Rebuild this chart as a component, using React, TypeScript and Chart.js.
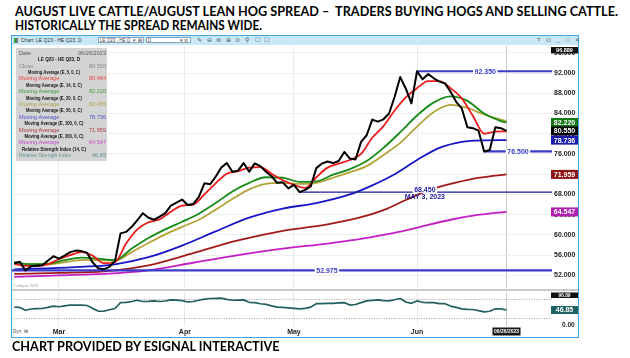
import React, { useEffect, useLayoutEffect, useRef } from "react";
import { Chart, registerables } from "chart.js";

Chart.register(...registerables);

// ---------------- data (x = trading-day index: 0 = 02/16/2023 ... 88 = 06/26/2023) ----------------
const closeValues = [
  54.4, 54.7, 52.98, 53.8, 53.9, 54.0, 54.9, 55.8, 55.3, 55.9,
  56.6, 56.9, 56.8, 56.5, 54.6, 53.4, 53.2, 53.7, 54.8, 60.3,
  60.6, 61.6, 62.9, 64.3, 63.4, 63.0, 63.6, 64.3, 65.8, 66.4,
  67.0, 65.9, 66.1, 67.5, 70.2, 70.0, 71.5, 73.3, 74.2, 72.5,
  72.7, 74.2, 72.5, 74.15, 73.6, 72.5, 71.6, 70.3, 70.4, 69.2,
  69.9, 68.45, 68.9, 69.6, 73.2, 74.1, 74.5, 74.2, 74.6, 76.4,
  75.1, 74.9, 78.4, 79.7, 82.8, 82.4, 82.85, 84.0, 87.3, 91.2,
  88.9, 86.0, 92.35, 90.75, 91.8, 90.95, 90.3, 89.95, 88.3, 86.3,
  85.0, 81.3, 81.1, 80.6, 76.5, 76.8, 81.3, 81.1, 80.55,
];

const ema5Idx = [
  0, 2, 4, 6, 8, 10, 12, 14, 16, 18, 20, 22, 24, 26, 28, 30, 32, 34, 36, 38, 40, 42,
  44, 46, 48, 50, 52, 54, 56, 58, 60, 62, 64, 66, 68, 70, 72, 74, 76, 78, 80, 82, 84, 86, 88,
];
const ema5Values = [
  54.3, 53.9, 53.9, 54.2, 55.2, 56.0, 56.6, 55.9, 54.4, 54.6,
  58.3, 61.1, 62.5, 63.1, 64.6, 65.8, 66.0, 68.0, 70.2, 72.1,
  72.6, 73.3, 73.4, 72.1, 70.8, 69.9, 69.3, 71.4, 73.3, 74.1,
  74.8, 76.0, 79.2, 81.5, 84.6, 87.2, 89.0, 90.4, 90.4, 89.0,
  87.0, 83.5, 80.0, 80.4, 80.464,
];

const midIdx = [
  0, 3, 6, 9, 12, 15, 18, 21, 24, 27, 30, 33, 36, 39, 42, 45, 48, 51, 54, 57,
  60, 63, 66, 69, 72, 75, 78, 81, 84, 87, 88,
];
const ema14Values = [
  54.6, 54.2, 54.3, 55.0, 55.5, 55.3, 55.0, 57.3, 59.4, 61.1,
  62.6, 64.2, 66.3, 68.6, 70.3, 71.4, 71.3, 70.5, 70.6, 71.9,
  73.0, 74.6, 77.2, 80.3, 83.6, 86.2, 87.4, 86.5, 84.0, 82.5, 82.22,
];
const ema20Values = [
  54.5, 54.2, 54.2, 54.6, 55.0, 55.0, 54.9, 56.6, 58.4, 60.1,
  61.6, 63.0, 65.0, 67.1, 69.0, 70.1, 70.3, 70.1, 70.3, 71.3,
  72.4, 73.6, 75.8, 78.2, 81.4, 84.3, 85.7, 85.1, 83.8, 82.8, 82.455,
];

const ema50Idx = [0, 6, 12, 18, 24, 30, 36, 42, 48, 54, 60, 64, 68, 72, 76, 80, 84, 88];
const ema50Values = [
  53.2, 53.4, 53.7, 54.2, 55.6, 57.9, 60.7, 63.4, 65.2, 66.3,
  68.0, 69.8, 72.0, 74.8, 77.2, 78.4, 78.7, 78.736,
];

const longIdx = [0, 8, 16, 24, 32, 40, 48, 56, 62, 66, 70, 74, 78, 82, 86, 88];
const ema100Values = [
  52.3, 52.5, 52.8, 54.0, 56.4, 58.9, 60.8, 62.1, 63.5, 64.9, 66.9, 68.8, 70.1, 71.1, 71.7, 71.959,
];
const ema200Values = [
  51.7, 52.0, 52.3, 53.0, 54.5, 56.0, 57.3, 58.3, 59.2, 60.0, 60.9, 62.0, 63.0, 63.8, 64.35, 64.547,
];

const rsiValues = [
  55.5, 55, 46, 50, 51, 51.6, 55, 59, 57, 60,
  62, 62.4, 62.4, 61, 52, 43.5, 43, 47.5, 51.6, 70,
  71, 73.5, 77.4, 73.5, 74, 75.3, 73.5, 75, 78.5, 77.5,
  76, 72, 73.5, 77.5, 81, 82.8, 83.5, 83.9, 80, 77.4,
  78, 78.5, 71, 70, 66.5, 64.5, 60, 56, 55, 53.8,
  52, 50.5, 52, 55.9, 66.7, 67, 67.7, 67.7, 69, 69.9,
  62.4, 64, 70, 75.3, 77, 78.5, 76, 75.3, 79, 82.8,
  72, 67.7, 75.3, 71, 69.9, 69.9, 67, 66.7, 59.1, 55,
  50.5, 49, 48.4, 45, 40.9, 43, 50.5, 50.5, 46.85,
];
const rsiBands = [80, 20];

// horizontal level lines (value, first day index, note)
const levelValues = [92.35, 76.5, 68.45, 52.975];
const levelStartIdx = [72, 84, 51, -1];
const levelNotes = ["", "", "MAY 3, 2023", ""];

// tick labels
const priceTicks = [52, 56, 60, 64, 68, 72, 76, 80, 84, 88, 92, 96];
const rsiTicks = [0];
const monthLabels = ["Mar", "Apr", "May", "Jun"];
const monthTickIdx = [8, 30.5, 50, 72];
const LAST_IDX = 88;
const LAST_DATE = "06/26/2023";
const PRICE_TOP_LABEL = 96.889;
const RSI_TOP_LABEL = 96.89;

// ---------------- layout / style ----------------
const FONT = '"Liberation Sans", Arial, Helvetica, sans-serif';
const X_MIN = -0.4;
const X_MAX = 96.13;
const PRICE_MIN = 49.51;
const PRICE_MAX = 97.34;
const RSI_MIN = -3.2;
const RSI_MAX = 103.2;
const AXIS_W = 26;
const levelLabelIdx = [84.2, 90.05, 73.4, 55.9];
const levelWidths = [2.2, 2.2, 1.4, 2.2];

const COL = {
  close: "#000000",
  e5: "#ec1c1c",
  e14: "#168a16",
  e20: "#b3a43a",
  e50: "#1616c8",
  e100: "#a11a1a",
  e200: "#c31fc3",
  level: "#3b3bc8",
  may: "#1a1a9c",
  rsi: "#235f5f",
};

Chart.defaults.font.family = FONT;

const last = (a: number[]) => a[a.length - 1];
const pts = (xs: number[], ys: number[]) => xs.map((x, i) => ({ x, y: ys[i] }));
const dayIdx = closeValues.map((_, i) => i);

function lineDs(data: any[], color: string, width: number, smooth = false, dash: number[] = []) {
  return {
    data,
    borderColor: color,
    backgroundColor: color,
    borderWidth: width,
    borderDash: dash,
    pointRadius: 0,
    pointHoverRadius: 0,
    fill: false,
    tension: 0,
    cubicInterpolationMode: smooth ? "monotone" : "default",
    borderJoinStyle: "round",
  };
}

const gridColor = (c: any) => (c.tick && c.tick.value === LAST_IDX ? "#cccccc" : "#e9e9e9");

const legendRows: any[] = [
  { kind: "pair", left: "Date", right: LAST_DATE, color: "#555555" },
  { kind: "head", text: "LE Q23 - HE Q23, D", w: 42, cx: 47 },
  { kind: "pair", left: "Close", right: last(closeValues).toFixed(3), color: "#888888" },
  { kind: "head", text: "Moving Average (E, 5, 0, C)", w: 52 },
  { kind: "pair", left: "Moving Average", right: last(ema5Values).toFixed(3), color: "#e84545" },
  { kind: "head", text: "Moving Average (E, 14, 0, C)", w: 56 },
  { kind: "pair", left: "Moving Average", right: last(ema14Values).toFixed(3), color: "#3a9a3a" },
  { kind: "head", text: "Moving Average (E, 20, 0, C)", w: 56 },
  { kind: "pair", left: "Moving Average", right: last(ema20Values).toFixed(3), color: "#b3a548" },
  { kind: "head", text: "Moving Average (E, 50, 0, C)", w: 56 },
  { kind: "pair", left: "Moving Average", right: last(ema50Values).toFixed(3), color: "#4d4dd0" },
  { kind: "head", text: "Moving Average (E, 100, 0, C)", w: 59 },
  { kind: "pair", left: "Moving Average", right: last(ema100Values).toFixed(3), color: "#b03838" },
  { kind: "head", text: "Moving Average (E, 200, 0, C)", w: 59 },
  { kind: "pair", left: "Moving Average", right: last(ema200Values).toFixed(3), color: "#c545c5" },
  { kind: "head", text: "Relative Strength Index (14, C)", w: 64 },
  { kind: "pair", left: "Relative Strength Index", right: last(rsiValues).toFixed(2), color: "#5f9090" },
];

const priceOverlay = {
  id: "priceOverlay",
  afterDatasetsDraw(chart: any) {
    const { ctx } = chart;
    const x = chart.scales.x;
    const y = chart.scales.y;
    ctx.save();
    ctx.textAlign = "center";
    ctx.textBaseline = "middle";
    ctx.font = `bold 7px ${FONT}`;
    levelValues.forEach((v, i) => {
      const px = x.getPixelForValue(levelLabelIdx[i]);
      const py = y.getPixelForValue(v);
      const t = v.toFixed(3);
      const w = ctx.measureText(t).width;
      const ty = levelNotes[i] ? py - 2.5 : py;
      ctx.fillStyle = "#ffffff";
      ctx.fillRect(px - w / 2 - 1.5, ty - 3.2, w + 3, 6.4);
      ctx.fillStyle = levelNotes[i] ? COL.may : COL.level;
      ctx.fillText(t, px, ty + 0.4);
      if (levelNotes[i]) ctx.fillText(levelNotes[i], px, py + 4.6);
    });
    ctx.restore();
  },
  afterDraw(chart: any) {
    const { ctx, chartArea } = chart;
    const y = chart.scales.y;
    ctx.save();
    // right axis value boxes
    const boxes = [
      { v: PRICE_TOP_LABEL, bg: "#111111", top: true },
      { v: last(ema14Values), bg: "#177717" },
      { v: last(closeValues), bg: "#000000" },
      { v: last(ema50Values), bg: "#1b1bb0" },
      { v: last(ema100Values), bg: "#8e1515" },
      { v: last(ema200Values), bg: "#b01fb0" },
    ];
    const bx = chartArea.right - 1;
    const bw = chart.width - bx;
    ctx.textAlign = "center";
    ctx.textBaseline = "middle";
    boxes.forEach((b: any) => {
      const h = b.top ? 6.5 : 9;
      const cy = b.top ? chartArea.top + 1 + h / 2 : y.getPixelForValue(b.v);
      ctx.fillStyle = b.bg;
      ctx.fillRect(bx, cy - h / 2, bw, h);
      ctx.fillStyle = "#ffffff";
      ctx.font = `bold ${b.top ? 5.5 : 7}px ${FONT}`;
      ctx.fillText(b.v.toFixed(3), bx + bw / 2, cy + 0.5);
    });
    // data-window legend box
    ctx.fillStyle = "rgba(208,208,208,0.92)";
    ctx.fillRect(4, 3, 91, 113);
    legendRows.forEach((r, i) => {
      const cy = 8.2 + i * 6.4;
      if (r.kind === "head") {
        ctx.font = `bold 5.6px ${FONT}`;
        ctx.fillStyle = "#111111";
        ctx.textAlign = "center";
        ctx.fillText(r.text, r.cx ?? 42, cy, r.w);
      } else {
        ctx.font = `5.6px ${FONT}`;
        ctx.fillStyle = r.color;
        ctx.textAlign = "left";
        ctx.fillText(r.left, 7, cy, 52);
        ctx.textAlign = "right";
        ctx.fillText(r.right, 94, cy);
      }
    });
    ctx.restore();
  },
};

const rsiOverlay = {
  id: "rsiOverlay",
  afterDraw(chart: any) {
    const { ctx, chartArea } = chart;
    const x = chart.scales.x;
    const y = chart.scales.y;
    ctx.save();
    const bx = chartArea.right - 1;
    const bw = chart.width - bx;
    ctx.textAlign = "center";
    ctx.textBaseline = "middle";
    ctx.fillStyle = "#111111";
    ctx.fillRect(bx, chartArea.top + 0.5, bw, 5.5);
    ctx.fillStyle = "#ffffff";
    ctx.font = `bold 4.8px ${FONT}`;
    ctx.fillText(RSI_TOP_LABEL.toFixed(2), bx + bw / 2, chartArea.top + 3.4);
    const cy = y.getPixelForValue(last(rsiValues));
    ctx.fillStyle = "#1f6161";
    ctx.fillRect(bx, cy - 4, bw, 8);
    ctx.fillStyle = "#ffffff";
    ctx.font = `bold 7px ${FONT}`;
    ctx.fillText(last(rsiValues).toFixed(2), bx + bw / 2, cy + 0.5);
    // date marker
    const px = x.getPixelForValue(LAST_IDX);
    ctx.font = `bold 5px ${FONT}`;
    const w = ctx.measureText(LAST_DATE).width + 3;
    ctx.fillStyle = "#1a1a1a";
    ctx.fillRect(px - w / 2, chartArea.bottom + 1.5, w, 8);
    ctx.fillStyle = "#ffffff";
    ctx.fillText(LAST_DATE, px, chartArea.bottom + 5.7);
    ctx.restore();
  },
};

function priceConfig(): any {
  const levels = levelValues.map((v, i) =>
    lineDs(
      [
        { x: levelStartIdx[i], y: v },
        { x: X_MAX + 1, y: v },
      ],
      levelNotes[i] ? COL.may : COL.level,
      levelWidths[i]
    )
  );
  return {
    type: "line",
    data: {
      datasets: [
        lineDs(pts(dayIdx, closeValues), COL.close, 2.0),
        ...levels,
        lineDs(pts(ema5Idx, ema5Values), COL.e5, 1.8, true),
        lineDs(pts(midIdx, ema14Values), COL.e14, 1.8, true),
        lineDs(pts(midIdx, ema20Values), COL.e20, 1.8, true),
        lineDs(pts(ema50Idx, ema50Values), COL.e50, 1.8, true),
        lineDs(pts(longIdx, ema100Values), COL.e100, 1.8, true),
        lineDs(pts(longIdx, ema200Values), COL.e200, 1.8, true),
      ],
    },
    options: {
      responsive: false,
      animation: false,
      devicePixelRatio: 1,
      events: [],
      layout: { padding: { top: 1, bottom: 1, left: 0, right: 0 } },
      plugins: { legend: { display: false }, tooltip: { enabled: false }, title: { display: false } },
      scales: {
        x: {
          type: "linear",
          min: X_MIN,
          max: X_MAX,
          afterBuildTicks: (s: any) => {
            s.ticks = [...monthTickIdx, LAST_IDX].map((v) => ({ value: v }));
          },
          afterFit: (s: any) => {
            s.height = 0;
            s.paddingLeft = 0;
            s.paddingRight = 0;
          },
          ticks: { display: false },
          grid: { color: gridColor, lineWidth: 1, drawTicks: false },
          border: { display: false },
        },
        y: {
          type: "linear",
          position: "right",
          min: PRICE_MIN,
          max: PRICE_MAX,
          afterBuildTicks: (s: any) => {
            s.ticks = priceTicks.map((v) => ({ value: v }));
          },
          afterFit: (s: any) => {
            s.width = AXIS_W;
            s.paddingTop = 0;
            s.paddingBottom = 0;
          },
          ticks: {
            callback: (v: any) => Number(v).toFixed(3),
            font: { family: FONT, size: 7, weight: "bold" },
            color: "#222222",
            padding: 2,
          },
          grid: { color: "#eeeeee", drawTicks: false },
          border: { display: false },
        },
      },
    },
    plugins: [priceOverlay],
  };
}

function rsiConfig(): any {
  const bands = rsiBands.map((b) =>
    lineDs(
      [
        { x: X_MIN - 1, y: b },
        { x: X_MAX + 1, y: b },
      ],
      "#9c9c9c",
      1,
      false,
      [1, 1.5]
    )
  );
  return {
    type: "line",
    data: {
      datasets: [lineDs(pts(dayIdx, rsiValues), COL.rsi, 1.7), ...bands],
    },
    options: {
      responsive: false,
      animation: false,
      devicePixelRatio: 1,
      events: [],
      layout: { padding: { top: 1, bottom: 0, left: 0, right: 0 } },
      plugins: { legend: { display: false }, tooltip: { enabled: false }, title: { display: false } },
      scales: {
        x: {
          type: "linear",
          min: X_MIN,
          max: X_MAX,
          afterBuildTicks: (s: any) => {
            s.ticks = [...monthTickIdx, LAST_IDX].map((v) => ({ value: v }));
          },
          afterFit: (s: any) => {
            s.height = 11;
            s.paddingLeft = 0;
            s.paddingRight = 0;
          },
          ticks: {
            callback: (_v: any, i: number) => (i < monthLabels.length ? monthLabels[i] : ""),
            font: { family: FONT, size: 7, weight: "bold" },
            color: "#222222",
            padding: 2,
            maxRotation: 0,
            minRotation: 0,
            autoSkip: false,
          },
          grid: { color: gridColor, lineWidth: 1, drawTicks: false },
          border: { display: false },
        },
        y: {
          type: "linear",
          position: "right",
          min: RSI_MIN,
          max: RSI_MAX,
          afterBuildTicks: (s: any) => {
            s.ticks = rsiTicks.map((v) => ({ value: v }));
          },
          afterFit: (s: any) => {
            s.width = AXIS_W;
            s.paddingTop = 0;
            s.paddingBottom = 0;
          },
          ticks: {
            callback: (v: any) => Number(v).toFixed(2),
            font: { family: FONT, size: 6.5, weight: "bold" },
            color: "#222222",
            padding: 2,
          },
          grid: { display: false },
          border: { display: false },
        },
      },
    },
    plugins: [rsiOverlay],
  };
}

function FitLine({ x, cy, width, size, text }: { x: number; cy: number; width: number; size: number; text: string }) {
  const ref = useRef<HTMLDivElement>(null);
  useLayoutEffect(() => {
    const fit = () => {
      const el = ref.current;
      if (!el) return;
      el.style.transform = "none";
      const w = el.getBoundingClientRect().width;
      if (w > 0) el.style.transform = `scaleX(${width / w})`;
    };
    fit();
    const f: any = (document as any).fonts;
    if (f && f.ready) f.ready.then(fit);
  }, [width]);
  return (
    <div
      ref={ref}
      style={{
        position: "absolute",
        left: x,
        top: cy - size * 0.629,
        fontFamily: 'Lato, "Open Sans", sans-serif',
        fontWeight: 700,
        fontSize: size,
        lineHeight: `${size * 1.2}px`,
        whiteSpace: "pre",
        transformOrigin: "0 50%",
        color: "#000",
      }}
    >
      {text}
    </div>
  );
}

function Tiny({ x, cy, size, color = "#333", bold = false, children }: any) {
  const base = 10;
  return (
    <div
      style={{
        position: "absolute",
        left: x,
        top: cy - size * 0.6,
        fontSize: base,
        lineHeight: `${base * 1.2}px`,
        transform: `scale(${size / base})`,
        transformOrigin: "0 0",
        whiteSpace: "pre",
        color,
        fontWeight: bold ? 700 : 400,
        fontFamily: FONT,
      }}
    >
      {children}
    </div>
  );
}

const toolIcons = ["✎", "⊖", "⊛", "⊕", "⊙", "⚲", "☐", "☐"];

export default function App() {
  const priceRef = useRef<HTMLCanvasElement>(null);
  const rsiRef = useRef<HTMLCanvasElement>(null);

  useEffect(() => {
    const pc = new Chart(priceRef.current as HTMLCanvasElement, priceConfig());
    const rc = new Chart(rsiRef.current as HTMLCanvasElement, rsiConfig());
    return () => {
      pc.destroy();
      rc.destroy();
    };
  }, []);

  return (
    <div style={{ position: "fixed", left: 0, top: 0, width: 630, height: 358, background: "#fff", overflow: "hidden" }}>
      <FitLine
        x={14.8}
        cy={12.2}
        width={603}
        size={13.3}
        text="AUGUST LIVE CATTLE/AUGUST LEAN HOG SPREAD –  TRADERS BUYING HOGS AND SELLING CATTLE."
      />
      <FitLine x={14.8} cy={26.2} width={247} size={13.3} text="HISTORICALLY THE SPREAD REMAINS WIDE." />

      {/* window title bar */}
      <div style={{ position: "absolute", left: 12, top: 35.5, width: 566, height: 9.5, background: "#c8e8f8" }} />
      <div style={{ position: "absolute", left: 13.5, top: 37.5, width: 2, height: 5, background: "#3aa63a" }} />
      <div style={{ position: "absolute", left: 16.2, top: 37.5, width: 2, height: 5, border: "0.5px solid #777", boxSizing: "border-box" }} />
      <Tiny x={21} cy={40.3} size={5} color="#333">Chart: LE Q23 - HE Q23, D</Tiny>
      <div style={{ position: "absolute", left: 98, top: 37.3, width: 46, height: 6, background: "#fff", border: "0.5px solid #8aa6b8", boxSizing: "border-box" }} />
      <Tiny x={100} cy={40.3} size={4.5} color="#444">{"LE Q23 - HE Q  ▾  ⊞"}</Tiny>
      <div style={{ position: "absolute", left: 146, top: 37.3, width: 45, height: 6, background: "#fff", border: "0.5px solid #8aa6b8", boxSizing: "border-box" }} />
      <Tiny x={148} cy={40.3} size={4.5} color="#444">D</Tiny>
      <Tiny x={180} cy={40.3} size={4.5} color="#444">{"▾ ⊘"}</Tiny>
      {toolIcons.map((g, i) => (
        <Tiny key={i} x={197 + i * 9.6} cy={40.3} size={6} color="#4a5a6a">
          {g}
        </Tiny>
      ))}
      <Tiny x={537} cy={40.3} size={5.5} color="#555">{"?    ⊡    _    □    ✕"}</Tiny>

      {/* chart panels */}
      <canvas ref={priceRef} width={566} height={244} style={{ position: "absolute", left: 12, top: 45 }} />
      <div style={{ position: "absolute", left: 12, top: 289, width: 566, height: 2, background: "#cacaca" }} />
      <canvas ref={rsiRef} width={566} height={46} style={{ position: "absolute", left: 12, top: 291 }} />

      <Tiny x={13} cy={286.3} size={3.5} color="#999">© eSignal, 2023</Tiny>
      <Tiny x={13} cy={331.5} size={4.5} color="#444">{"Dyn  ⊞"}</Tiny>

      {/* window frame */}
      <div
        style={{
          position: "absolute",
          left: 11,
          top: 35,
          width: 568,
          height: 303,
          border: "1.5px solid #3ea4e6",
          boxSizing: "border-box",
          pointerEvents: "none",
        }}
      />

      <FitLine x={11.5} cy={347.3} width={267.5} size={13.3} text="CHART PROVIDED BY ESIGNAL INTERACTIVE" />
    </div>
  );
}
